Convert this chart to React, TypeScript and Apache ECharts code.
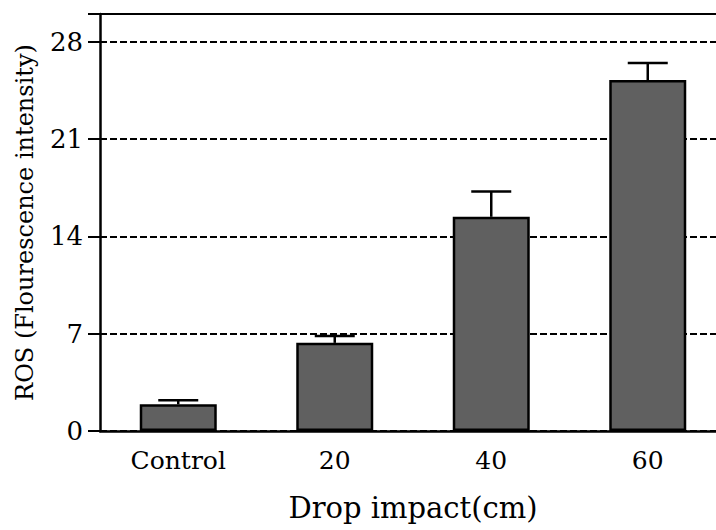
import React, { useEffect, useRef } from "react";
import * as echarts from "echarts";

const categories = ["Control", "20", "40", "60"];
const means = [1.92, 6.34, 15.41, 25.25];
const errors = [0.29, 0.5, 1.82, 1.22];
const yTicks = [0, 7, 14, 21, 28];

const FONT = "DejaVu Serif";

export default function App() {
  const ref = useRef<HTMLDivElement>(null);

  useEffect(() => {
    if (!ref.current) return;
    const chart = echarts.init(ref.current, null, { renderer: "svg" });
    const errData = means.map((m, i) => [i, m, m + errors[i]]);

    chart.setOption({
      animation: false,
      backgroundColor: "#ffffff",
      textStyle: { fontFamily: FONT },
      grid: { left: 100, top: 14, width: 626, height: 417, containLabel: false },
      xAxis: [
        {
          type: "category",
          data: categories,
          position: "bottom",
          name: "Drop impact(cm)",
          nameLocation: "middle",
          nameGap: 62,
          nameTextStyle: { fontFamily: FONT, fontSize: 29, color: "#000" },
          axisLine: { lineStyle: { color: "#000", width: 2.5 } },
          axisTick: { alignWithLabel: true, length: 12, lineStyle: { color: "#000", width: 2 } },
          axisLabel: { fontFamily: FONT, fontSize: 25, color: "#000", margin: 17 },
        },
        {
          type: "category",
          data: categories,
          position: "top",
          axisLine: { lineStyle: { color: "#000", width: 2 } },
          axisTick: { show: false },
          axisLabel: { show: false },
        },
      ],
      yAxis: {
        type: "value",
        min: 0,
        max: 30,
        interval: 7,
        name: "ROS (Flourescence intensity)",
        nameLocation: "middle",
        nameGap: 63,
        nameTextStyle: { fontFamily: FONT, fontSize: 24, color: "#000" },
        axisLine: { show: true, lineStyle: { color: "#000", width: 2.5 } },
        axisTick: { show: true, length: 12, lineStyle: { color: "#000", width: 2 } },
        axisLabel: {
          fontFamily: FONT,
          fontSize: 26,
          color: "#000",
          margin: 17,
          formatter: (v: number) => (yTicks.includes(v) ? String(v) : ""),
        },
        splitLine: {
          show: true,
          lineStyle: { color: "#000", width: 2, type: [7, 3] },
        },
      },
      series: [
        {
          type: "bar",
          data: means,
          barWidth: 77,
          itemStyle: { color: "#606060", borderColor: "#000", borderWidth: 2.5 },
          z: 2,
        },
        {
          type: "custom",
          data: errData,
          z: 3,
          renderItem: (params: any, api: any) => {
            const i = api.value(0);
            const base = api.coord([i, api.value(1)]);
            const top = api.coord([i, api.value(2)]);
            const half = 20;
            return {
              type: "group",
              children: [
                {
                  type: "line",
                  shape: { x1: base[0], y1: base[1], x2: top[0], y2: top[1] },
                  style: { stroke: "#000", lineWidth: 2.5 },
                },
                {
                  type: "line",
                  shape: { x1: top[0] - half, y1: top[1], x2: top[0] + half, y2: top[1] },
                  style: { stroke: "#000", lineWidth: 2.5 },
                },
              ],
            };
          },
        },
      ],
    });

    return () => chart.dispose();
  }, []);

  // The plot runs past the right edge, so the chart is wider than its clipped frame.
  return (
    <div style={{ position: "absolute", left: 0, top: 0, width: 716, height: 530, overflow: "hidden" }}>
      <div ref={ref} style={{ width: 740, height: 530 }} />
    </div>
  );
}
